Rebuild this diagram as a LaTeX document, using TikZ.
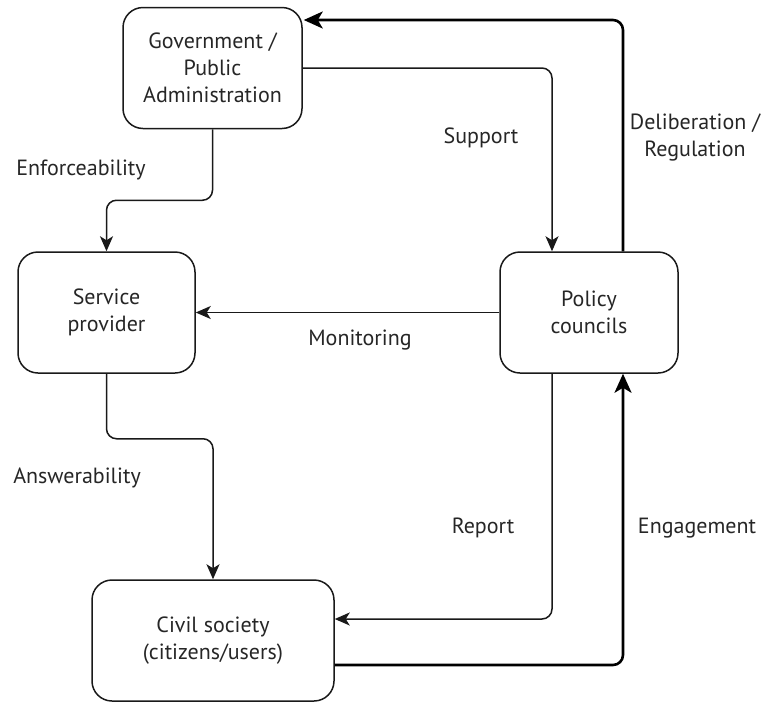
\documentclass[tikz,border=0pt]{standalone}
\usepackage{fontspec}
\setmainfont{PT Sans}
\usetikzlibrary{arrows.meta}
\begin{document}
\begin{tikzpicture}[x=1pt,y=-1pt,
  box/.style={draw=black!90, line width=1.5pt, rounded corners=20pt, align=center,
    text=black!85, font=\fontsize{22}{27}\selectfont, inner sep=0pt},
  lbl/.style={align=center, text=black!85, font=\fontsize{22}{27}\selectfont, inner sep=0pt},
  conn/.style={draw=black!90, line width=1.5pt, rounded corners=10pt,
    -{Stealth[length=15pt,width=13pt,inset=4pt]}},
  thickconn/.style={draw=black, line width=2.6pt, rounded corners=10pt,
    -{Stealth[length=19pt,width=17pt,inset=5pt]}}]
\useasboundingbox (0,0) rectangle (763,702);
\node[box, minimum width=179pt, minimum height=121pt] (gov) at (212.5,68) {Government /\\Public\\Administration};
\node[box, minimum width=177pt, minimum height=121pt] (serv) at (106.5,312.5) {Service\\provider};
\node[box, minimum width=178pt, minimum height=121pt] (pol) at (589,312.5) {Policy\\councils};
\node[box, minimum width=242pt, minimum height=121pt] (civ) at (213,640.5) {Civil society\\(citizens/users)};

\node[lbl] (lenf) at (81,170) {Enforceability};
\node[lbl] (lsup) at (481,138) {Support};
\node[lbl] (ldel) at (695,137) {Deliberation /\\Regulation};
\node[lbl] (lmon) at (360,340) {Monitoring};
\node[lbl] (lans) at (77,478) {Answerability};
\node[lbl] (lrep) at (483,528) {Report};
\node[lbl] (leng) at (697,528) {Engagement};

\draw[conn] (gov.east) -| ([xshift=-37pt]pol.north);
\draw[conn] (gov.south) -- ++(0,71) -| (serv.north);
\draw[conn] (pol.west) -- (serv.east);
\draw[conn] (serv.south) -- ++(0,65) -| (civ.north);
\draw[conn] ([xshift=-37pt]pol.south) |- ([yshift=21.5pt]civ.east);
\draw[thickconn] ([xshift=34pt]pol.north) |- ([yshift=48pt,xshift=1pt]gov.east);
\draw[thickconn] ([yshift=-24.5pt]civ.east) -| ([xshift=34pt]pol.south);
\end{tikzpicture}
\end{document}
